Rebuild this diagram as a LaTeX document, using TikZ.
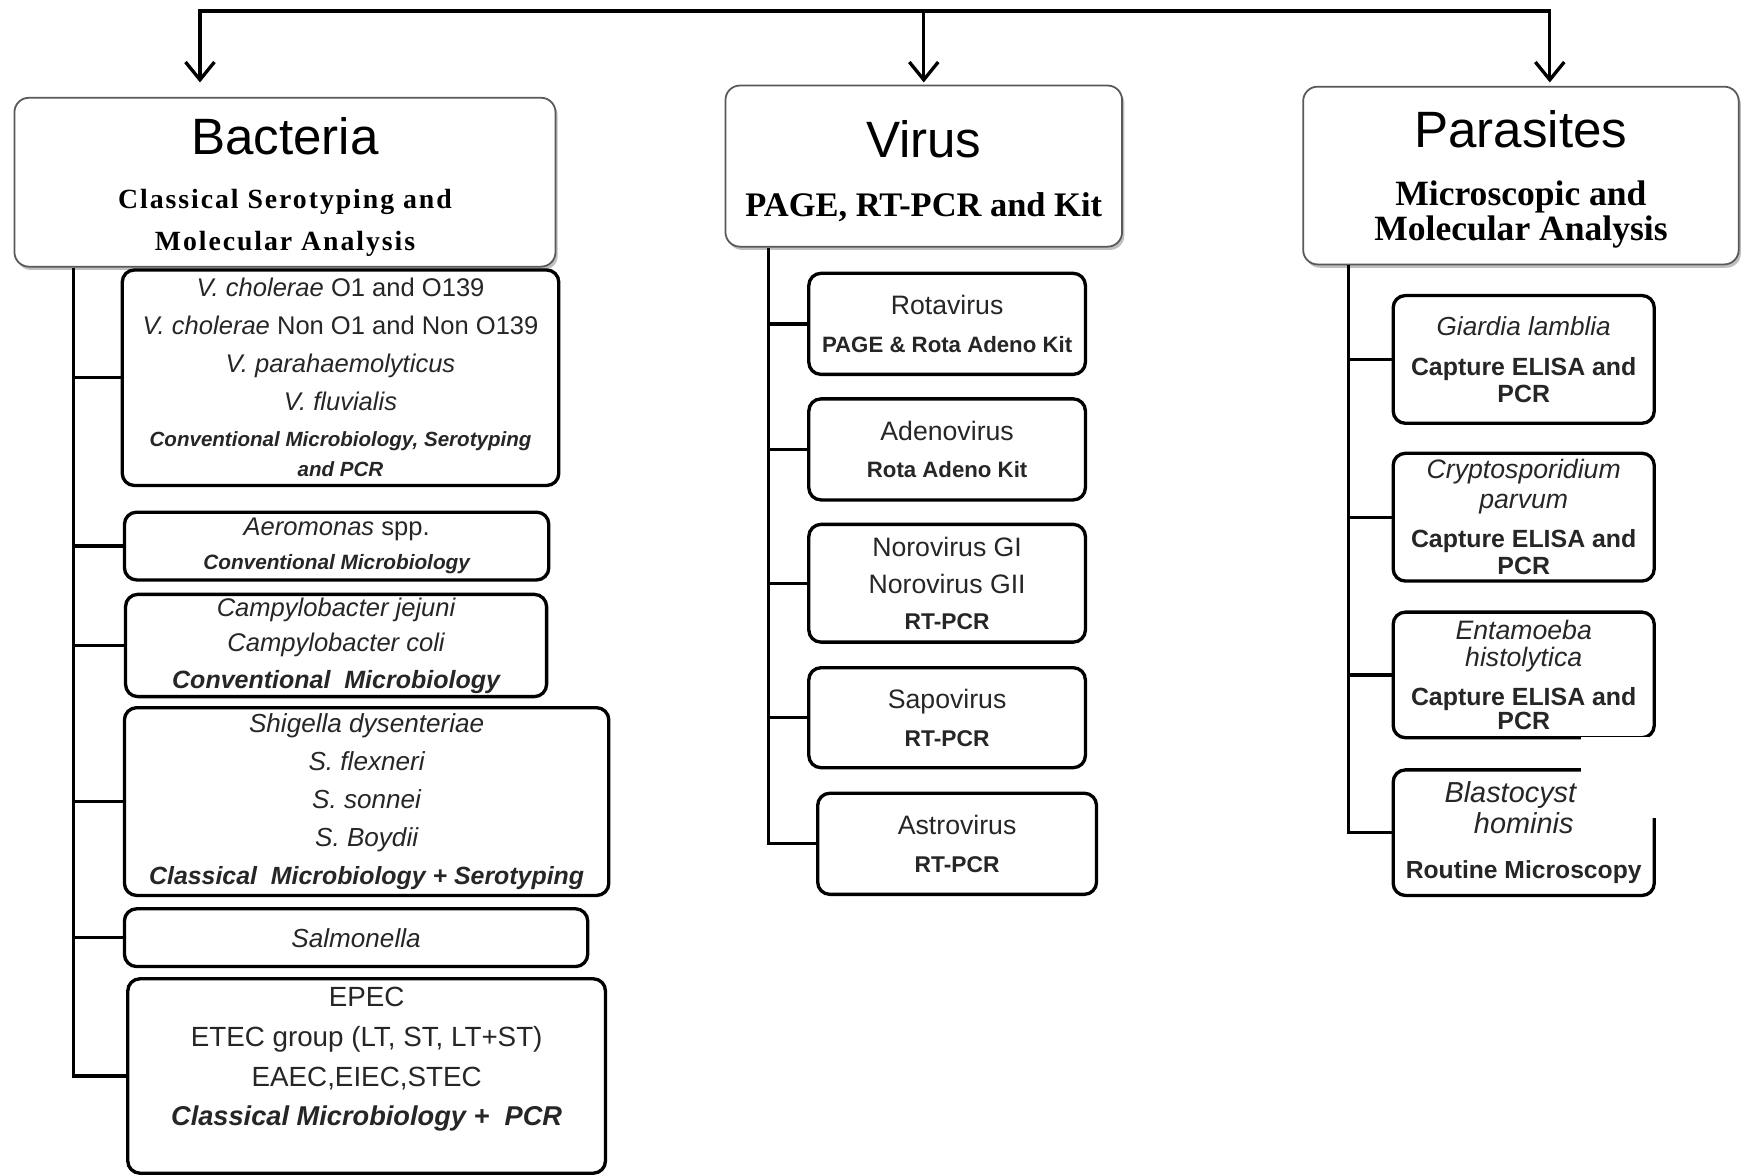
\documentclass[tikz,border=0pt]{standalone}
\usepackage{fontspec}
\setmainfont{Liberation Sans}
\newfontfamily\tmsspaced{Liberation Serif}[LetterSpace=7]
\newfontfamily\tmsfont{Liberation Serif}
\usetikzlibrary{arrows.meta,shadows}
\newcommand\fsz[2]{\fontsize{#1}{#2}\selectfont}
\newcommand\bix[1]{{\bfseries\itshape #1}}
\newcommand\itx[1]{{\itshape #1}}
\newcommand\bfx[1]{{\bfseries #1}}
\begin{document}
\begin{tikzpicture}[x=1pt,y=-1pt,
  head/.style={draw=black!65, line width=1.6pt, rounded corners=13pt, fill=white,
    align=center, inner sep=0pt,
    drop shadow={shadow xshift=2pt, shadow yshift=-3pt, opacity=0.25, fill=black}},
  leaf/.style={draw=black, line width=3pt, rounded corners=11pt, fill=white,
    align=center, inner sep=0pt, text=black!85},
  conn/.style={line width=3pt},
  tip/.style={-{Straight Barb[length=16pt,width=26pt]}},
  bothtip/.style={{Straight Barb[length=16pt,width=26pt]}-{Straight Barb[length=16pt,width=26pt]}}
]
\useasboundingbox[fill=white] (0,0) rectangle (1568,1058);

% ---------- headers ----------
\node[head, minimum width=487pt, minimum height=152pt, font=\tmsspaced\bfseries\fsz{25}{38}] (bh) at (256.5,164)
  {\rule{0pt}{42pt}{\normalfont\fsz{46}{46}Bacteria}\\[11pt]
   Classical Serotyping and\\
   Molecular Analysis};
\node[head, minimum width=357pt, minimum height=145pt, font=\tmsfont\bfseries\fsz{31}{40}] (vh) at (831.5,149.5)
  {\rule{0pt}{42.5pt}{\normalfont\fsz{46}{46}Virus}\\[13.5pt]
   PAGE, RT-PCR and Kit};
\node[head, minimum width=392pt, minimum height=160pt, font=\tmsfont\bfseries\fsz{32}{32}] (ph) at (1369,158)
  {\rule{0pt}{40.5pt}{\normalfont\fsz{46}{46}Parasites}\\[19.5pt]
   Microscopic and\\
   Molecular Analysis};

% ---------- top connector ----------
\coordinate (tl) at (180,10);
\coordinate (tr) at (1395,10);
\draw[conn, bothtip, shorten <=13pt, shorten >=3pt] (tl |- bh.north) -- (tl) -- (tr) -- (tr |- ph.north);
\draw[conn, tip, shorten >=2pt] (vh.north |- tl) -- (vh.north);

% ---------- trunks ----------
\coordinate (bx) at (66,0);
\coordinate (vx) at (692,0);
\coordinate (px) at (1214,0);

% ---------- bacteria leaves ----------
\node[leaf, minimum width=393pt, minimum height=194pt, font=\fsz{23}{34}] (b1) at (306.5,340)
  {\itx{V. cholerae} O1 and O139\\
   \itx{V. cholerae} Non O1 and Non O139\\
   \itx{V. parahaemolyticus}\\
   \itx{V. fluvialis}\\[-1pt]
   \bix{\fsz{18.5}{20}Conventional Microbiology, Serotyping}\\[-7pt]
   \bix{\fsz{18.5}{20}and PCR}};
\node[leaf, minimum width=382pt, minimum height=61pt, font=\fsz{23}{31}] (b2) at (303,491.5)
  {\itx{Aeromonas} spp.\\
   \bix{\fsz{18.7}{20}Conventional Microbiology}};
\node[leaf, minimum width=379pt, minimum height=92pt, font=\fsz{23}{32}] (b3) at (302.5,581)
  {\itx{Campylobacter jejuni}\\
   \itx{Campylobacter coli}\\[1pt]
   \bix{\fsz{22.5}{24}Conventional\ \ Microbiology}};
\node[leaf, minimum width=436pt, minimum height=169pt, font=\fsz{23.5}{34}] (b4) at (330,721.5)
  {\itx{Shigella dysenteriae}\\
   \itx{S. flexneri}\\
   \itx{S. sonnei}\\
   \itx{S. Boydii}\\
   \bix{\fsz{22.4}{24}Classical\ \ Microbiology + Serotyping}};
\node[leaf, minimum width=417pt, minimum height=52pt, font=\fsz{23.5}{30}] (b5) at (320.5,844)
  {\itx{Salmonella}};
\node[leaf, minimum width=430pt, minimum height=175pt, font=\fsz{25}{36}] (b6) at (330,968.5)
  {EPEC\\
   ETEC group (LT, ST, LT+ST)\\
   EAEC,EIEC,STEC\\[-1pt]
   \bix{\fsz{24.5}{26}Classical Microbiology +\ \ PCR}\rule[-35pt]{0pt}{1pt}};

\draw[conn] (bh.south -| bx) -- (b6.west -| bx) -- (b6.west);
\foreach \n in {b1,b2,b3,b4,b5} \draw[conn] (\n.west -| bx) -- (\n.west);

% ---------- virus leaves ----------
\node[leaf, minimum width=249pt, minimum height=91pt, font=\fsz{24}{34}] (v1) at (852.5,291.5)
  {Rotavirus\\ \bfx{\fsz{20}{22}PAGE \& Rota Adeno Kit}};
\node[leaf, minimum width=249pt, minimum height=91pt, font=\fsz{24}{34}] (v2) at (852.5,404.5)
  {Adenovirus\\ \bfx{\fsz{20}{22}Rota Adeno Kit}};
\node[leaf, minimum width=249pt, minimum height=106pt, font=\fsz{24}{34}] (v3) at (852.5,525)
  {Norovirus GI\\ Norovirus GII\\[-2pt] \bfx{\fsz{20.5}{22}RT-PCR}};
\node[leaf, minimum width=249pt, minimum height=90pt, font=\fsz{24}{34}] (v4) at (852.5,646)
  {Sapovirus\\ \bfx{\fsz{20.5}{22}RT-PCR}};
\node[leaf, minimum width=251pt, minimum height=91pt, font=\fsz{24}{34}] (v5) at (861.5,759.5)
  {Astrovirus\\ \bfx{\fsz{20.5}{22}RT-PCR}};

\draw[conn] (vh.south -| vx) -- (v5.west -| vx) -- (v5.west);
\foreach \n in {v1,v2,v3,v4} \draw[conn] (\n.west -| vx) -- (\n.west);

% ---------- parasite leaves ----------
\node[leaf, minimum width=235pt, minimum height=115pt, font=\fsz{23.5}{24}] (p1) at (1371.5,323.5)
  {\itx{Giardia lamblia}\\[12pt]
   \bfx{\fsz{22.4}{24}Capture ELISA and}\\
   \bfx{\fsz{22.4}{24}PCR}};
\node[leaf, minimum width=235pt, minimum height=115pt, font=\fsz{24}{24}] (p2) at (1371.5,465.5)
  {\itx{Cryptosporidium}\\[3pt]
   \itx{parvum}\\[11pt]
   \bfx{\fsz{22.4}{24}Capture ELISA and}\\
   \bfx{\fsz{22.4}{24}PCR}};
\node[leaf, minimum width=235pt, minimum height=113pt, font=\fsz{24}{24}] (p3) at (1371.5,607.5)
  {\itx{Entamoeba}\\
   \itx{histolytica}\\[11pt]
   \bfx{\fsz{22.4}{24}Capture ELISA and}\\[-2pt]
   \bfx{\fsz{22.4}{24}PCR}};
\node[leaf, minimum width=235pt, minimum height=113pt, font=\fsz{26}{28}] (p4) at (1371.5,749.5)
  {\itx{Blastocyst}\kern24pt\\
   \itx{hominis}\\[12pt]
   \bfx{\fsz{22.2}{24}Routine Microscopy}};

\draw[conn] (ph.south -| px) -- (p4.west -| px) -- (p4.west);
\foreach \n in {p1,p2,p3} \draw[conn] (\n.west -| px) -- (\n.west);

% white patch present in the reference
\fill[white] (1423,663.5) rectangle (1500,736);
\end{tikzpicture}
\end{document}
